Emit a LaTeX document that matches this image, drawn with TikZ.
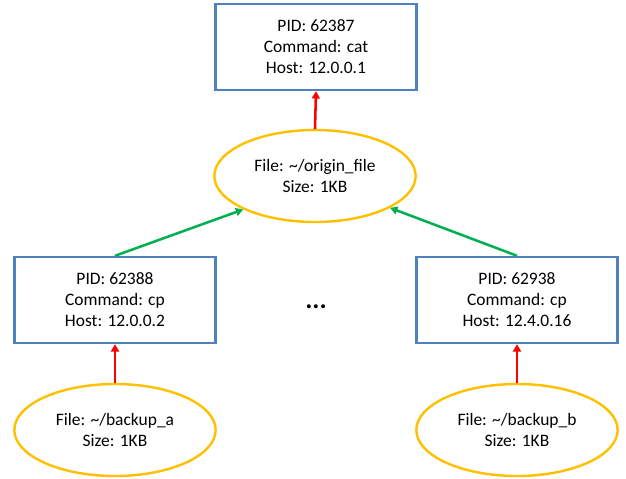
\documentclass[tikz,border=0pt]{standalone}
\usepackage{fontspec}
\setmainfont{Carlito}
\usetikzlibrary{shapes.geometric,arrows.meta}
\definecolor{boxblue}{HTML}{4F81BD}
\definecolor{ellorange}{HTML}{FFC000}
\definecolor{arrred}{HTML}{FF0000}
\definecolor{arrgreen}{HTML}{00B050}
\begin{document}
\begin{tikzpicture}[x=0.75pt,y=-0.75pt,
  proc/.style={draw=boxblue,line width=1.8pt,rectangle,minimum width=151pt,minimum height=64.5pt,align=center,font=\fontsize{13.1}{15.7}\selectfont,inner sep=0pt},
  fileell/.style={draw=ellorange,line width=1.8pt,ellipse,minimum width=151pt,minimum height=69pt,align=center,font=\fontsize{13.1}{15.7}\selectfont,inner sep=0pt},
  redarr/.style={draw=arrred,line width=1.9pt,-{Triangle[length=5.5pt,width=6pt]}},
  greenarr/.style={draw=arrgreen,line width=1.9pt,-{Triangle[length=5.5pt,width=6pt]}}]
\useasboundingbox (0,0) rectangle (626,479);
\node[proc] (p1) at (316,47) {PID: 62387\\Command: cat\\Host: 12.0.0.1};
\node[fileell] (f0) at (315,176) {File: \textasciitilde/origin\_file\\Size: 1KB};
\node[proc] (p2) at (115,300) {PID: 62388\\Command: cp\\Host: 12.0.0.2};
\node[proc] (p3) at (517,300) {PID: 62938\\Command: cp\\Host: 12.4.0.16};
\node[fileell] (fa) at (115,430) {File: \textasciitilde/backup\_a\\Size: 1KB};
\node[fileell] (fb) at (517,430) {File: \textasciitilde/backup\_b\\Size: 1KB};
\node[font=\fontsize{20}{20}\selectfont\bfseries] (dots) at (316,307) {...};
\draw[redarr] (f0.north) -- (p1.south);
\draw[redarr] (fa.north) -- (p2.south);
\draw[redarr] (fb.north) -- (p3.south);
\draw[greenarr] (p2.north) -- (f0.205);
\draw[greenarr] (p3.north) -- (f0.-23.5);
\end{tikzpicture}
\end{document}
